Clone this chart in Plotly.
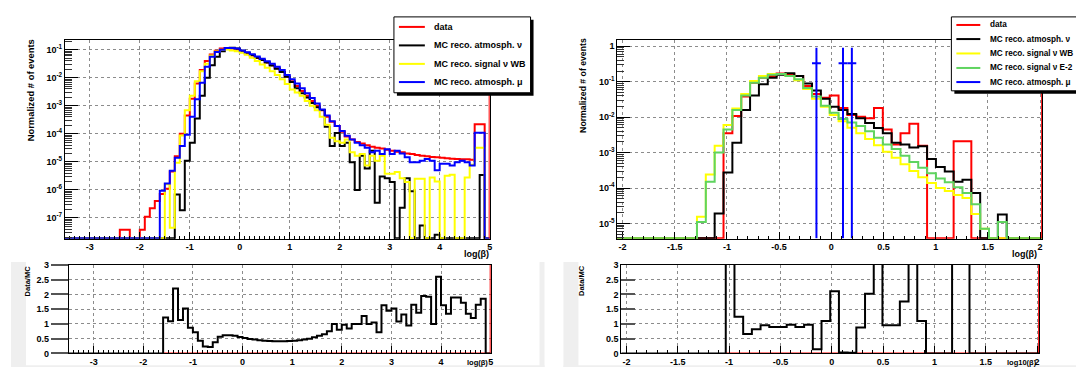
import numpy as np
import plotly.graph_objects as go

W, H = 1084, 367

# ---------------- binning ----------------
LEFT_X_RANGE = [-3.5, 5.0]
LEFT_NBINS = 85
RIGHT_X_RANGE = [-2.05, 2.02]
RIGHT_NBINS = 48

# ---------------- left panel: log(beta) ----------------
left_data = [0, 0, 0, 0, 0, 0, 0, 0, 0, 0, 0,
             3.8e-8, 3.8e-8, 0, 0, 3.8e-8, 1.1e-7, 2.2e-7, 4.0e-7, 7.1e-7,
             1.1e-6, 4.5e-6, 1.6e-5, 1.0e-4, 4.5e-4, 1.8e-3, 6.3e-3, 1.9e-2, 4.0e-2, 6.8e-2,
             9.3e-2, 0.110, 0.115, 0.112, 0.102, 0.087, 0.074, 0.062, 0.051, 0.043,
             0.035, 0.028, 0.022, 0.0166, 0.0112, 7.6e-3, 5.1e-3, 3.4e-3, 2.3e-3, 1.5e-3,
             1.0e-3, 6.9e-4, 4.1e-4, 2.7e-4, 1.9e-4, 1.2e-4, 8.1e-5, 6.3e-5, 5.1e-5, 4.5e-5,
             3.9e-5, 3.5e-5, 3.2e-5, 3.0e-5, 2.7e-5, 2.5e-5, 2.3e-5, 2.2e-5, 2.0e-5, 1.9e-5,
             1.75e-5, 1.66e-5, 1.58e-5, 1.5e-5, 1.45e-5, 1.4e-5, 1.35e-5, 1.3e-5, 1.26e-5, 1.23e-5,
             1.23e-5, 1.2e-5, 2.2e-4, 2.2e-4, 0]

left_atm_nu = [0] * 22 + [
    6.8e-7, 1.9e-7, 1.1e-5, 4.8e-5, 3.5e-4, 2.3e-3, 1.0e-2, 2.8e-2,
    5.6e-2, 8.9e-2, 0.112, 0.117, 0.110, 0.093, 0.078, 0.065, 0.052, 0.043,
    0.035, 0.0275, 0.021, 0.016, 0.011, 7.1e-3, 4.2e-3, 2.8e-3, 2.0e-3, 1.26e-3,
    8.9e-4, 7.1e-4, 1.8e-4, 3.7e-5, 1.07e-4, 3.7e-5, 4.8e-5, 9.8e-6, 1.0e-6, 1.66e-5,
    5.8e-6, 2.5e-5, 3.5e-7, 3.0e-6, 2.6e-6, 1.9e-6, 0, 2.3e-7, 2.6e-6, 8.9e-7,
    0, 5.4e-8, 0, 0, 2.5e-8, 0, 0, 0, 0, 0,
    0, 0, 0, 3.4e-6, 0]

left_sig_wb = [0] * 20 + [
    1.6e-6, 4.5e-8, 9.3e-6, 8.7e-5, 6.9e-4, 2.3e-3, 7.6e-3, 1.7e-2, 3.2e-2, 6.3e-2,
    8.7e-2, 0.100, 0.102, 0.095, 0.089, 0.079, 0.066, 0.052, 0.040, 0.030,
    0.023, 0.017, 0.0126, 8.9e-3, 6.0e-3, 3.8e-3, 3.0e-3, 2.3e-3, 1.5e-3, 1.0e-3,
    6.9e-4, 4.1e-4, 2.1e-4, 7.2e-5, 5.5e-5, 4.8e-5, 6.3e-5, 2.2e-5, 1.66e-5, 1.9e-5,
    7.4e-6, 1.66e-5, 1.1e-5, 1.66e-5, 3.8e-6, 3.8e-6, 4.4e-6, 2.6e-6, 1.9e-6, 0,
    2.5e-6, 2.5e-6, 0, 2.8e-6, 2.0e-6, 0, 3.2e-6, 3.5e-6, 0, 0,
    2.8e-6, 7.9e-6, 3.2e-5, 3.2e-5, 0]

left_atm_mu = [0] * 19 + [
    9.3e-7,
    1.7e-6, 4.8e-6, 1.4e-5, 3.7e-5, 9.3e-5, 4.1e-4, 1.7e-3, 6.6e-3, 2.5e-2, 5.6e-2,
    8.3e-2, 0.100, 0.115, 0.115, 0.110, 0.095, 0.081, 0.069, 0.058, 0.048,
    0.039, 0.032, 0.025, 0.019, 0.0126, 8.9e-3, 6.3e-3, 4.2e-3, 2.8e-3, 1.9e-3,
    1.2e-3, 7.4e-4, 4.5e-4, 2.8e-4, 1.9e-4, 1.26e-4, 8.5e-5, 6.3e-5, 4.8e-5, 3.9e-5,
    3.2e-5, 2.2e-5, 2.5e-5, 1.9e-5, 2.8e-5, 1.9e-5, 2.5e-5, 2.0e-5, 1.45e-5, 9.8e-6,
    9.8e-6, 1.1e-5, 1.26e-5, 1.1e-5, 5.0e-6, 8.5e-6, 8.5e-6, 7.4e-6, 9.8e-6, 1.1e-5,
    9.8e-6, 7.4e-6, 1.1e-4, 1.1e-4, 0]

left_ratio = [0] * 19 + [
    1.22,
    1.09, 2.20, 1.13, 1.52, 0.87, 0.72, 0.43, 0.24, 0.22, 0.38,
    0.57, 0.62, 0.62, 0.60, 0.56, 0.52, 0.49, 0.47, 0.45, 0.43,
    0.42, 0.41, 0.41, 0.41, 0.42, 0.43, 0.45, 0.47, 0.50, 0.55,
    0.60, 0.65, 0.75, 1.00, 0.80, 0.97, 0.85, 1.00, 1.00, 1.27,
    1.00, 1.05, 0.72, 1.63, 1.45, 1.52, 1.08, 1.32, 0.95, 1.65,
    1.38, 1.95, 1.92, 1.00, 2.60, 1.63, 1.35, 1.90, 1.90, 1.72,
    1.35, 1.20, 1.65, 1.85, 0]

# ---------------- right panel: log10(beta) ----------------
right_data = [0] * 12 + [
    3.5e-3, 0.0107, 0.038, 0.093, 0.129, 0.145, 0.170, 0.162,
    0.145, 0.076, 0.045, 0.035, 0.041, 0.018, 0.0115, 0.0102, 9.3e-3, 0.018,
    4.5e-3, 1.7e-3, 3.5e-3, 6.5e-3, 1.55e-3, 0, 0, 0, 2.1e-3, 2.1e-3] + [0] * 8

right_atm_nu = [0] * 11 + [
    1.9e-5, 2.75e-4, 1.9e-3, 0.0158, 0.041, 0.085, 0.129, 0.158, 0.174,
    0.145, 0.089, 0.056, 0.033, 0.0195, 0.0158, 0.0123, 9.3e-3, 6.8e-3, 4.9e-3,
    3.5e-3, 1.9e-3, 1.7e-3, 1.38e-3, 1.5e-3, 6.6e-4, 3.9e-4, 2.9e-4, 1.5e-4, 1.7e-4,
    7.2e-5, 0, 0, 1.8e-5, 0, 0, 0, 0]

right_sig_wb = [0] * 9 + [
    1.55e-5, 2.4e-4, 1.55e-3, 6.0e-3, 0.0174, 0.045, 0.105, 0.145, 0.166, 0.166, 0.145,
    0.110, 0.062, 0.033, 0.0195, 0.0115, 7.6e-3, 5.0e-3, 3.5e-3, 2.4e-3, 1.6e-3,
    1.05e-3, 7.1e-4, 4.7e-4, 3.0e-4, 2.0e-4, 1.38e-4, 1.0e-4, 8.3e-5, 6.3e-5, 5.2e-5,
    1.86e-5, 7.1e-6, 0, 0, 0, 0, 0, 0]

right_sig_e2 = [0] * 9 + [
    1.1e-5, 1.5e-4, 1.0e-3, 4.5e-3, 0.0158, 0.041, 0.093, 0.129, 0.158, 0.166, 0.145,
    0.117, 0.066, 0.038, 0.021, 0.0132, 8.9e-3, 7.1e-3, 5.6e-3, 4.0e-3, 2.6e-3,
    1.7e-3, 1.26e-3, 8.1e-4, 5.4e-4, 3.7e-4, 2.6e-4, 1.86e-4, 1.45e-4, 1.05e-4, 7.2e-5,
    3.5e-5, 7.1e-6, 0, 1.1e-5, 0, 0, 0, 0]

right_atm_mu = [0] * 22 + [0.333, 0, 0, 0.333, 0.333] + [0] * 21
right_atm_mu_err = [0] * 22 + [0.577, 0, 0, 0.577, 0.577] + [0] * 21

right_ratio = [0] * 12 + [
    6.0, 1.24, 0.66, 0.82, 0.96, 0.90, 0.90, 0.97,
    0.90, 0.97, 0.14, 1.10, 2.11, 0.03, 0.02, 0.88, 2.02, 6.0,
    0.96, 0.96, 1.76, 6.0, 1.10, 0, 0, 0, 8.0, 8.0] + [0] * 8

# ---------------- labels ----------------
legend_left = ["data", "MC reco. atmosph. \u03bd", "MC reco. signal \u03bd WB", "MC reco. atmosph. \u03bc"]
legend_right = ["data", "MC reco. atmosph. \u03bd", "MC reco. signal \u03bd WB",
                "MC reco. signal \u03bd E-2", "MC reco. atmosph. \u03bc"]
left_xticks = [-3, -2, -1, 0, 1, 2, 3, 4, 5]
right_xticks = [-2, -1.5, -1, -0.5, 0, 0.5, 1, 1.5, 2]
ratio_yticks = [0, 0.5, 1, 1.5, 2, 2.5, 3]
left_ydec = [-7, -6, -5, -4, -3, -2, -1]
right_ydec = [-5, -4, -3, -2, -1, 0]

# ---------------- styles ----------------
RED, BLACK, YELLOW, BLUE, GREEN = "#ff0000", "#000000", "#ffff00", "#0000ff", "#5fd45f"
LEFT_LOG_RANGE = [-7.74, -0.66]
RIGHT_LOG_RANGE = [-5.43, 0.17]
RATIO_RANGE = [0, 3]
FONT = "Liberation Sans"
PAD_GRAY = "#efefef"


def px(p):
    return p / W


def py(p):
    return 1 - p / H


def edges(rng, n):
    return np.linspace(rng[0], rng[1], n + 1)


def hist_xy(e, vals, floor):
    y = [v if v > 0 else floor for v in vals]
    y.append(y[-1])
    return list(e), y


fig = go.Figure()

le = edges(LEFT_X_RANGE, LEFT_NBINS)
re_ = edges(RIGHT_X_RANGE, RIGHT_NBINS)
lfloor = 10 ** (LEFT_LOG_RANGE[0] + 0.012)
rfloor = 10 ** (RIGHT_LOG_RANGE[0] + 0.012)

# left top
for vals, col in [(left_data, RED), (left_atm_nu, BLACK), (left_sig_wb, YELLOW), (left_atm_mu, BLUE)]:
    x, y = hist_xy(le, vals, lfloor)
    fig.add_trace(go.Scatter(x=x, y=y, mode="lines", line=dict(color=col, width=2, shape="hv"),
                             xaxis="x", yaxis="y", showlegend=False, hoverinfo="skip"))
fig.add_trace(go.Scatter(x=[le[-1], le[-1]], y=[lfloor, 10 ** LEFT_LOG_RANGE[1]], mode="lines",
                         line=dict(color=RED, width=2), xaxis="x", yaxis="y", showlegend=False))

# right top
for vals, col in [(right_data, RED), (right_atm_nu, BLACK), (right_sig_wb, YELLOW), (right_sig_e2, GREEN)]:
    x, y = hist_xy(re_, vals, rfloor)
    fig.add_trace(go.Scatter(x=x, y=y, mode="lines", line=dict(color=col, width=2, shape="hv"),
                             xaxis="x3", yaxis="y3", showlegend=False, hoverinfo="skip"))
bx, by = [], []
for i, (v, e) in enumerate(zip(right_atm_mu, right_atm_mu_err)):
    if v > 0:
        c = 0.5 * (re_[i] + re_[i + 1])
        bx += [c, c, None, re_[i], re_[i + 1], None]
        by += [max(v - e, rfloor), v + e, None, v, v, None]
fig.add_trace(go.Scatter(x=bx, y=by, mode="lines", line=dict(color=BLUE, width=2),
                         xaxis="x3", yaxis="y3", showlegend=False, hoverinfo="skip"))
fig.add_trace(go.Scatter(x=[re_[-1], re_[-1]], y=[rfloor, 10 ** RIGHT_LOG_RANGE[1]], mode="lines",
                         line=dict(color=RED, width=2), xaxis="x3", yaxis="y3", showlegend=False))

# ratios
for vals, e, xa, ya in [(left_ratio, le, "x2", "y2"), (right_ratio, re_, "x4", "y4")]:
    first = next(i for i, v in enumerate(vals) if v > 0)
    fig.add_trace(go.Scatter(x=[e[first], e[-1], e[-1]], y=[0, 0, RATIO_RANGE[1]], mode="lines",
                             line=dict(color=RED, width=2), xaxis=xa, yaxis=ya, showlegend=False))
    x, y = hist_xy(e, vals, 0)
    fig.add_trace(go.Scatter(x=x, y=y, mode="lines", line=dict(color=BLACK, width=2, shape="hv"),
                             xaxis=xa, yaxis=ya, showlegend=False, hoverinfo="skip"))

tickfont = dict(family=FONT, size=9, color="black", weight="bold")
grid = dict(showgrid=True, gridcolor="#8c8c8c", griddash="dot", gridwidth=1)
frame = dict(showline=True, linecolor="black", linewidth=1, mirror=True, zeroline=False)


def log_axis(decs, rng):
    minor_vals = [m * 10.0 ** d for d in range(decs[0] - 1, decs[-1] + 1) for m in range(2, 10)]
    return dict(type="log", range=rng, tickvals=[10.0 ** d for d in decs],
                ticktext=["1" if d == 0 else "10<sup>%d</sup>" % d for d in decs],
                ticks="inside", ticklen=13, tickcolor="black", tickfont=tickfont,
                minor=dict(tickvals=minor_vals, ticks="inside", ticklen=7, tickcolor="#333", showgrid=False),
                **grid, **frame)


def lin_x(rng, ticks_, minor_dt, dom, anchor):
    return dict(domain=dom, anchor=anchor, range=rng, tickvals=ticks_, ticktext=[("%g" % t) for t in ticks_],
                ticks="inside", ticklen=7, tickcolor="black", tickfont=tickfont,
                minor=dict(dtick=minor_dt, ticks="inside", ticklen=3, tickcolor="black", showgrid=False),
                **grid, **frame)


fig.update_layout(
    width=W, height=H, margin=dict(l=0, r=0, t=0, b=0),
    paper_bgcolor="white", plot_bgcolor="white", showlegend=False,
    xaxis=lin_x(LEFT_X_RANGE, left_xticks, 0.1, [px(57), px(483)], "y"),
    yaxis=dict(domain=[py(232), py(28)], anchor="x", **log_axis(left_ydec, LEFT_LOG_RANGE)),
    xaxis2=lin_x(LEFT_X_RANGE, left_xticks, 0.1, [px(61), px(484)], "y2"),
    yaxis2=dict(domain=[py(350), py(259)], anchor="x2", range=RATIO_RANGE, tickvals=ratio_yticks,
                ticks="outside", ticklen=17, tickcolor="#555", tickwidth=2, tickfont=tickfont, **grid, **frame),
    xaxis3=lin_x(RIGHT_X_RANGE, right_xticks, 0.1, [px(611), px(1037)], "y3"),
    yaxis3=dict(domain=[py(232), py(28)], anchor="x3", **log_axis(right_ydec, RIGHT_LOG_RANGE)),
    xaxis4=lin_x(RIGHT_X_RANGE, right_xticks, 0.1, [px(615), px(1034)], "y4"),
    yaxis4=dict(domain=[py(350), py(259)], anchor="x4", range=RATIO_RANGE, tickvals=ratio_yticks,
                ticks="inside", ticklen=14, tickcolor="#555", tickwidth=2, tickfont=tickfont, **grid, **frame),
)

shapes, annos = [], []

# light-gray borders of the lower (ratio) pads
for x0, x1 in [(3, 538), (557, 1084)]:
    for rx0, rx1, ry0, ry1 in [(x0, x0 + 15, 256, 367), (x0, x1, 362, 367), (x1 - 5, x1, 256, 367)]:
        shapes.append(dict(type="rect", xref="paper", yref="paper", x0=px(rx0), x1=px(rx1),
                           y0=py(ry1), y1=py(ry0), fillcolor=PAD_GRAY, line=dict(width=0), layer="below"))


def text(x, y, s, size, xanchor="left", angle=0):
    annos.append(dict(x=px(x), y=py(y), xref="paper", yref="paper", text=s, showarrow=False,
                      xanchor=xanchor, yanchor="middle", textangle=angle,
                      font=dict(family=FONT, size=size, color="black", weight="bold")))


def legend(x0, y0, x1, y1, names, colors, ys, lx0, lx1, tx, size):
    shapes.append(dict(type="rect", xref="paper", yref="paper", x0=px(x0 + 3), x1=px(x1 + 3),
                       y0=py(y1 + 3), y1=py(y0 + 3), fillcolor="black", line=dict(width=0), layer="above"))
    shapes.append(dict(type="rect", xref="paper", yref="paper", x0=px(x0), x1=px(x1),
                       y0=py(y1), y1=py(y0), fillcolor="white", line=dict(color="black", width=1), layer="above"))
    for n, c, yy in zip(names, colors, ys):
        shapes.append(dict(type="line", xref="paper", yref="paper", x0=px(lx0), x1=px(lx1), y0=py(yy), y1=py(yy),
                           line=dict(color=c, width=2), layer="above"))
        text(tx, yy, n, size)


legend(387, 4, 524, 82, legend_left, [RED, BLACK, YELLOW, BLUE], [14.3, 33.3, 52.3, 71], 392, 418, 425, 9.0)
legend(946, 4, 1080, 80, legend_right, [RED, BLACK, YELLOW, GREEN, BLUE], [12.3, 26.8, 41.6, 56.5, 71],
       951, 975, 983, 8.2)

text(22.5, 79, "Normalized # of events", 9.4, "center", -90)
text(576.5, 74, "Normalized # of events", 8.7, "center", -90)
text(20, 275, "Data/MC", 7.5, "center", -90)
text(575, 275, "Data/MC", 7.5, "center", -90)
text(484, 248, "log(\u03b2)", 9, "right")
text(1034, 248, "log(\u03b2)", 9, "right")
text(483, 359, "log(\u03b2)", 7.5, "right")
text(1034, 359, "log10(\u03b2)", 7.5, "right")

fig.update_layout(shapes=shapes, annotations=annos)
fig.write_html("out.html")
